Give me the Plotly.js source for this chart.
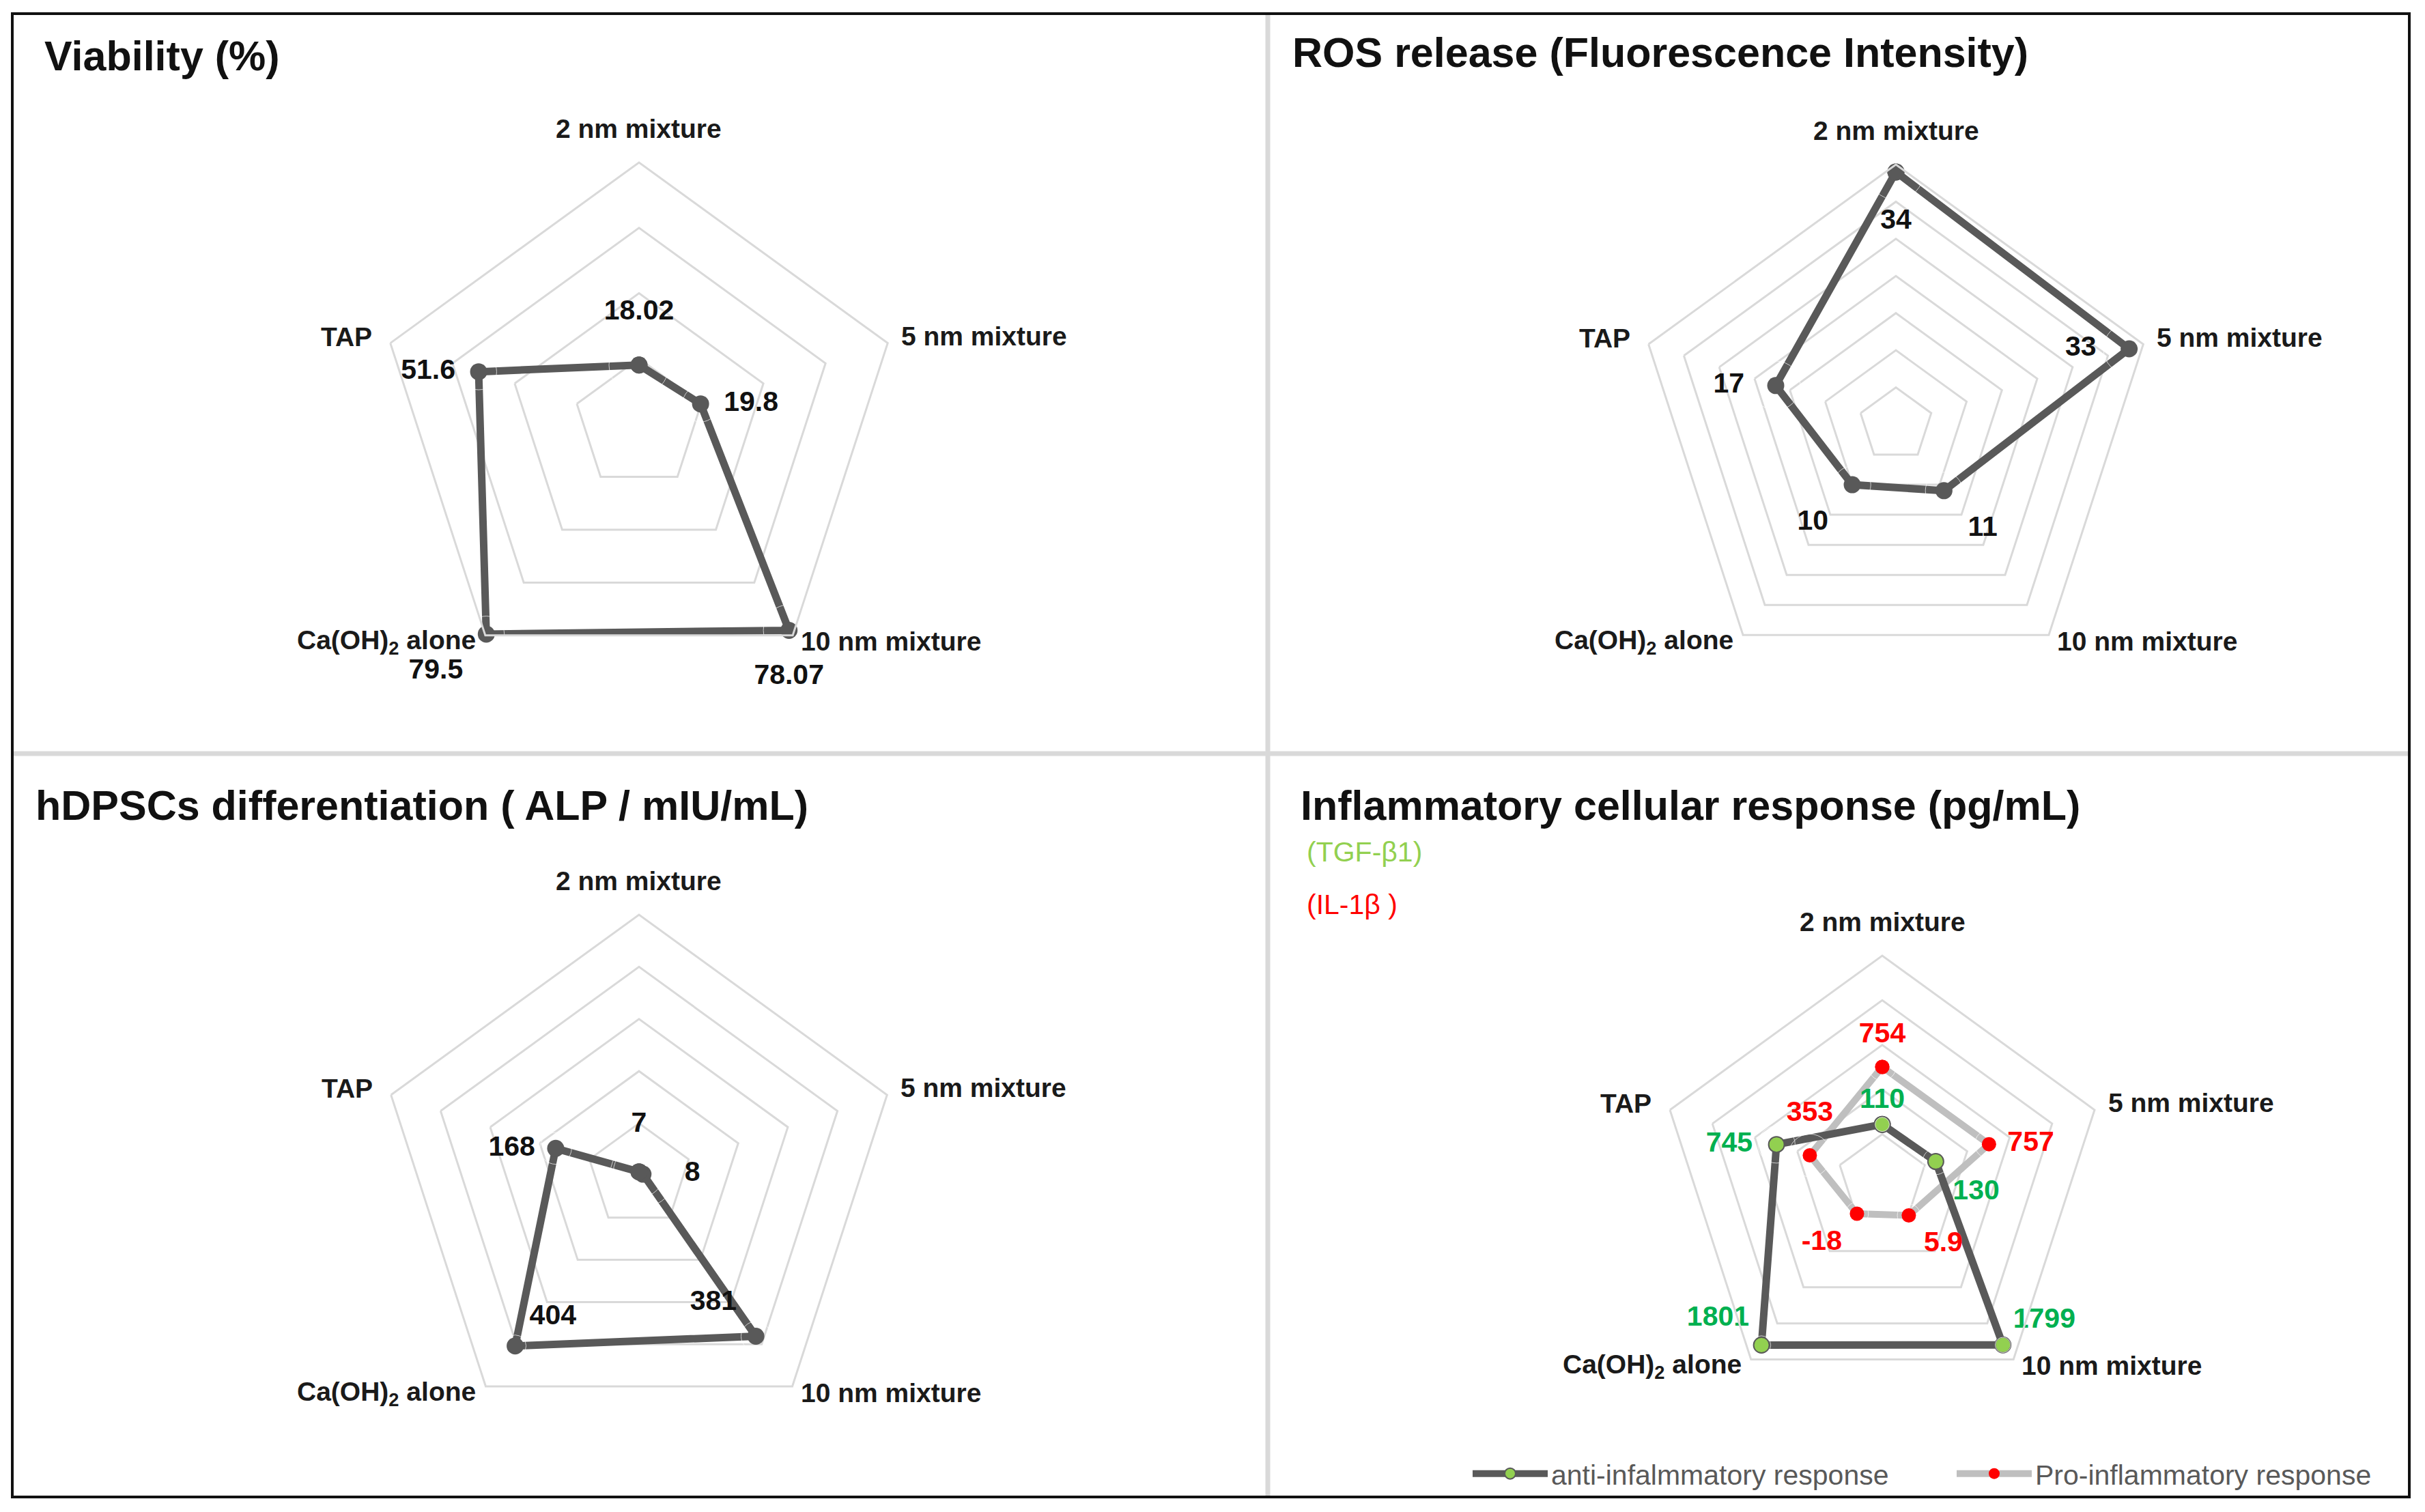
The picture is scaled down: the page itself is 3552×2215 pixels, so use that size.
<!DOCTYPE html>
<html>
<head>
<meta charset="utf-8">
<script src="https://cdn.plot.ly/plotly-3.0.1.min.js"></script>
<style>html,body{margin:0;padding:0;background:#fff;overflow:hidden}</style>
</head>
<body>
<div id="chart" style="width:3552px;height:2215px"></div>
<script>
// ---------------- data ----------------
const categories = ['2 nm mixture', '5 nm mixture', '10 nm mixture', 'Ca(OH)<sub>2</sub> alone', 'TAP'];
const viability = [18.02, 19.8, 78.07, 79.5, 51.6];
const rosRelease = [34, 33, 11, 10, 17];
const alpActivity = [7, 8, 381, 404, 168];
const tgfBeta1 = [110, 130, 1799, 1801, 745];
const il1Beta = [754, 757, 5.9, -18, 353];
const panelTitles = ['Viability (%)', 'ROS release (Fluorescence Intensity)',
  'hDPSCs differentiation ( ALP / mIU/mL)', 'Inflammatory cellular response (pg/mL)'];
const markerNames = ['(TGF-β1)', '(IL-1β )'];
const seriesNames = ['anti-infalmmatory response', 'Pro-inflammatory response'];

// radial scales of the four radar charts (axis minimum / maximum / step)
const viabilityAxis = [0, 80, 20];
const rosAxis = [0, 35, 5];
const alpAxis = [0, 500, 100];
const inflammatoryAxis = [-500, 2000, 500];

// ---------------- style / layout ----------------
const W = 3552, H = 2215;
const FONT = 'Liberation Sans, Arial, sans-serif';
const GRID = '#D9D9D9';
const DARK = '#595959';

// panel geometry: centre x, centre y, radius (px)
const P1 = [936, 621, 383], P2 = [2777, 622, 381], P3 = [936, 1722, 382], P4 = [2757, 1727, 327];

function closed(a) { return a.concat([a[0]]); }
function dom(g) {
  const [cx, cy, R] = g;
  return { x: [(cx - R) / W, (cx + R) / W], y: [(H - cy - R) / H, (H - cy + R) / H] };
}
// radial axis runs from 0 to (max-min); r values are measured from the axis minimum
function polar(g, axis) {
  return {
    domain: dom(g),
    bgcolor: 'rgba(0,0,0,0)',
    gridshape: 'linear',
    radialaxis: {
      range: [0, axis[1] - axis[0]], dtick: axis[2], tick0: 0, showticklabels: false, ticks: '',
      showline: false, gridcolor: GRID, gridwidth: 3
    },
    angularaxis: {
      type: 'category', categoryorder: 'array', categoryarray: categories,
      rotation: 90, direction: 'clockwise', showgrid: false,
      showline: true, linecolor: GRID, linewidth: 3,
      ticks: '', showticklabels: false
    }
  };
}
function rOf(values, axis) { return values.map(v => v - axis[0]); }
function lineTrace(values, axis, subplot, lineColor, lineWidth, mColor, mSize, mLine, name, showlegend, rank) {
  return {
    type: 'scatterpolar', subplot: subplot, name: name || '',
    r: closed(rOf(values, axis)), theta: closed(categories),
    mode: 'lines+markers', cliponaxis: false, hoverinfo: 'skip',
    line: { color: lineColor, width: lineWidth },
    marker: { size: mSize, color: mColor, line: mLine || { width: 0 } },
    showlegend: !!showlegend, legendrank: rank || 1000
  };
}
function labelTrace(values, axis, subplot, positions, offsets, color) {
  return {
    type: 'scatterpolar', subplot: subplot,
    r: rOf(values, axis), theta: categories,
    mode: 'markers+text', cliponaxis: false, hoverinfo: 'skip', showlegend: false,
    text: values.map(v => String(v)),
    textposition: positions,
    textfont: { family: FONT, size: 41, color: color, weight: 'bold' },
    marker: { size: offsets.map(o => o > 1 ? 1.6 * (o - 1) : 0), color: 'rgba(0,0,0,0)' }
  };
}

const traces = [
  lineTrace(viability, viabilityAxis, 'polar', DARK, 11, DARK, 25),
  labelTrace(viability, viabilityAxis, 'polar', ['top center', 'middle right', 'bottom center', 'bottom left', 'middle left'], [56, 34, 48, 34, 34], '#111'),

  lineTrace(rosRelease, rosAxis, 'polar2', DARK, 11, DARK, 25),
  labelTrace(rosRelease, rosAxis, 'polar2', ['bottom center', 'middle left', 'bottom right', 'bottom left', 'middle left'], [52, 48, 35, 35, 46], '#111'),

  lineTrace(alpActivity, alpAxis, 'polar3', DARK, 11, DARK, 25),
  labelTrace(alpActivity, alpAxis, 'polar3', ['top center', 'middle right', 'top left', 'top right', 'middle left'], [48, 61, 28, 21, 30], '#111'),

  lineTrace(il1Beta, inflammatoryAxis, 'polar4', '#BFBFBF', 10, '#FF0000', 21, { width: 0 }, seriesNames[1], true, 2),
  lineTrace(tgfBeta1, inflammatoryAxis, 'polar4', DARK, 11, '#92D050', 23, { color: DARK, width: 2 }, seriesNames[0], true, 1),
  labelTrace(il1Beta, inflammatoryAxis, 'polar4', ['top center', 'middle right', 'bottom right', 'bottom left', 'top center'], [26, 27, 22, 22, 40], '#FF0000'),
  labelTrace(tgfBeta1, inflammatoryAxis, 'polar4', ['top center', 'bottom right', 'top right', 'top left', 'middle left'], [14, 25, 15, 18, 35], '#00B050')
];

function px(x) { return x / W; }
function py(y) { return (H - y) / H; }
function textAnn(text, x, y, size, color, weight, xanchor) {
  return { text: text, xref: 'paper', yref: 'paper', x: px(x), y: py(y), xanchor: xanchor || 'left', yanchor: 'middle',
    showarrow: false, font: { family: FONT, size: size, color: color, weight: weight } };
}
// category labels placed round the outer pentagon vertices
const labelOffsets = [[0, -50, 'center'], [18, -10, 'left'], [10, 9, 'left'], [-12, 10, 'right'], [-25, -9, 'right']];
function categoryAnns(g) {
  const [cx, cy, R] = g;
  return categories.map((c, k) => {
    const a = (90 - 72 * k) * Math.PI / 180;
    const vx = cx + R * Math.cos(a), vy = cy - R * Math.sin(a);
    const o = labelOffsets[k];
    return textAnn(c, vx + o[0], vy + o[1], 39, '#1a1a1a', 'bold', o[2]);
  });
}

const layout = {
  width: W, height: H,
  margin: { l: 0, r: 0, t: 0, b: 0, autoexpand: false },
  paper_bgcolor: '#ffffff',
  showlegend: true,
  polar: polar(P1, viabilityAxis),
  polar2: polar(P2, rosAxis),
  polar3: polar(P3, alpAxis),
  polar4: polar(P4, inflammatoryAxis),
  legend: {
    orientation: 'h', x: px(2152), xanchor: 'left', y: py(2159), yanchor: 'middle',
    font: { family: FONT, size: 41, color: DARK }, bgcolor: 'rgba(0,0,0,0)',
    itemwidth: 110, entrywidth: 584, entrywidthmode: 'pixels'
  },
  annotations: [
    textAnn(panelTitles[0], 63, 82, 61, '#111', 'bold'),
    textAnn(panelTitles[1], 1891, 77, 61, '#111', 'bold'),
    textAnn(panelTitles[2], 50, 1180, 61, '#111', 'bold'),
    textAnn(panelTitles[3], 1903, 1180, 61, '#111', 'bold'),
    textAnn(markerNames[0], 1912, 1248, 41, '#92D050', 'normal'),
    textAnn(markerNames[1], 1912, 1325, 41, '#FF0000', 'normal')
  ].concat(categoryAnns(P1), categoryAnns(P2), categoryAnns(P3), categoryAnns(P4)),
  shapes: [
    { type: 'line', xref: 'paper', yref: 'paper', x0: px(1857), x1: px(1857), y0: py(20), y1: py(2193), line: { color: GRID, width: 7 } },
    { type: 'line', xref: 'paper', yref: 'paper', x0: px(18), x1: px(3529), y0: py(1104), y1: py(1104), line: { color: GRID, width: 7 } },
    { type: 'rect', xref: 'paper', yref: 'paper', x0: px(18), x1: px(3529), y0: py(20), y1: py(2193), line: { color: '#111', width: 4 } }
  ]
};

Plotly.newPlot('chart', traces, layout, { staticPlot: true, displayModeBar: false });
</script>
</body>
</html>
